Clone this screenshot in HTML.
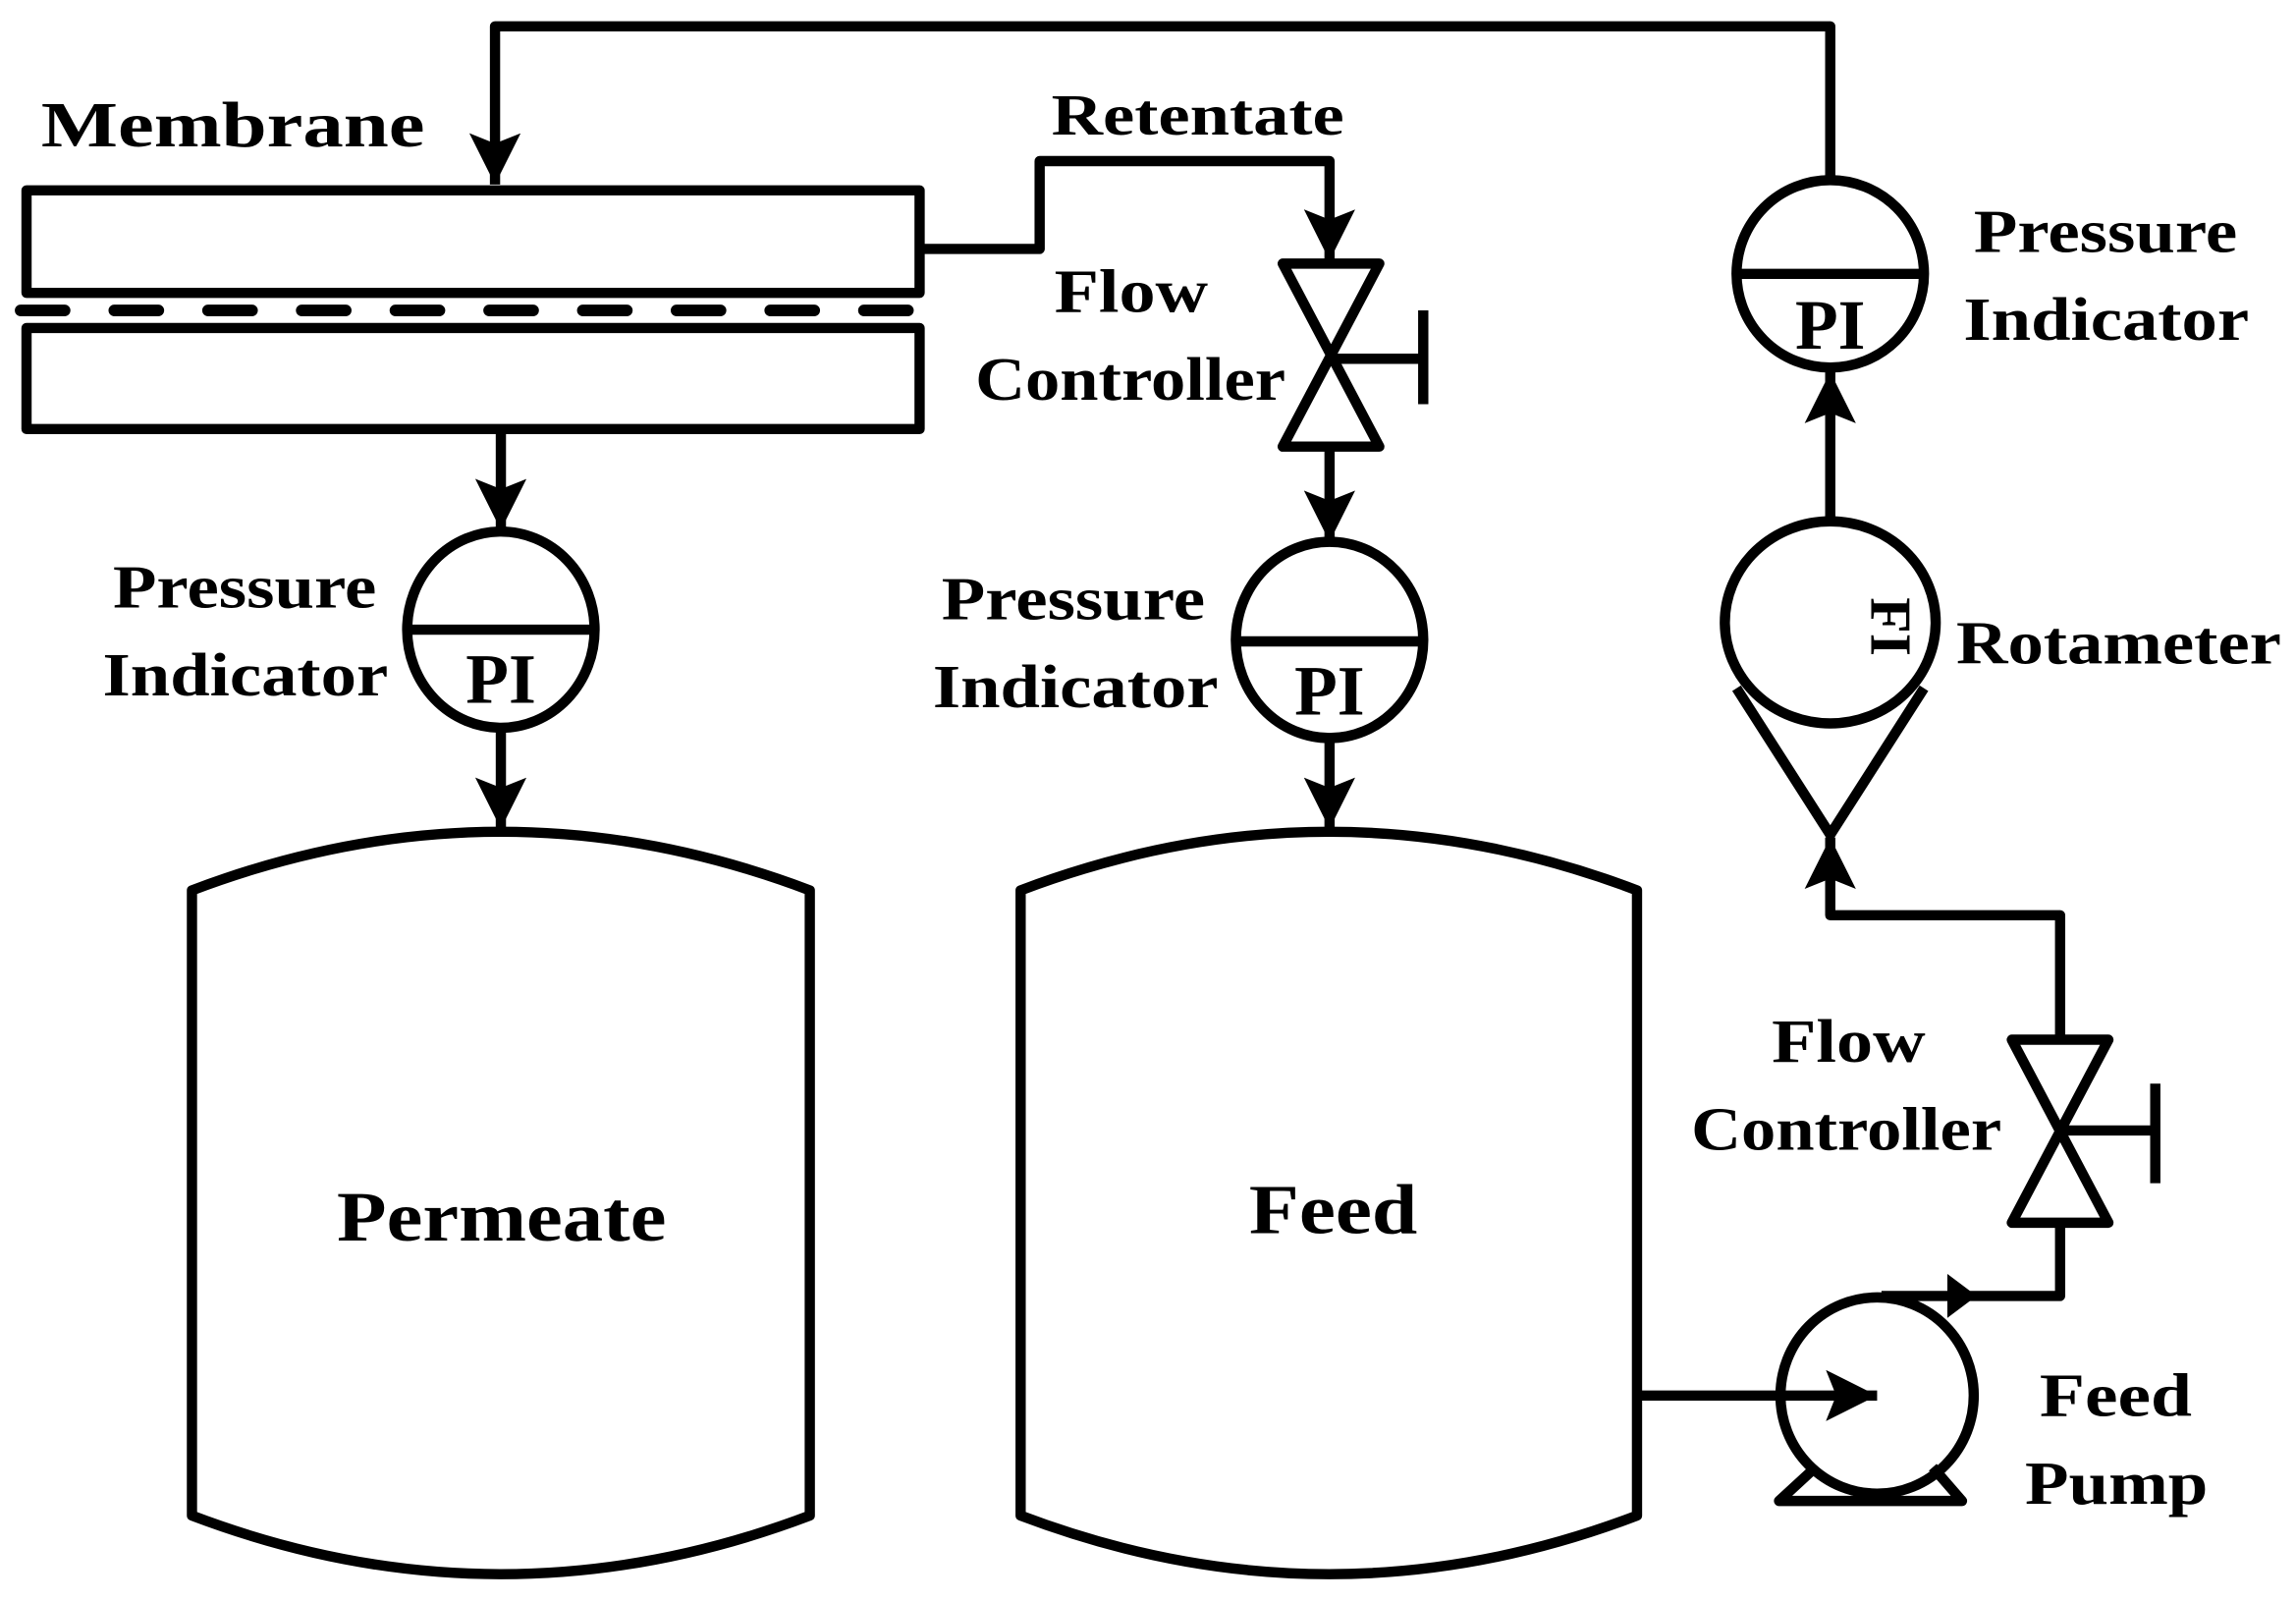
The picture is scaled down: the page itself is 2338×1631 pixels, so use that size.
<!DOCTYPE html>
<html><head><meta charset="utf-8"><style>
html,body{margin:0;padding:0;background:#fff;}
svg{display:block;}
text{font-family:"Liberation Serif",serif;font-weight:bold;fill:#000;}
</style></head><body>
<svg width="2338" height="1631" viewBox="0 0 1568 1094" xmlns="http://www.w3.org/2000/svg">
<defs>
<marker id="a" viewBox="0 0 10 10" refX="10" refY="5" markerWidth="5" markerHeight="5" orient="auto" markerUnits="strokeWidth"><path d="M0,0 L10,5 L0,10 L2,5 Z" fill="#000"/></marker>
</defs>
<g fill="none" stroke="#000" stroke-width="7" stroke-linejoin="round">
<polyline points="1250,123 1250,18 338,18 338,126" marker-end="url(#a)"/>
<rect x="18" y="130" width="610" height="70"/>
<rect x="18" y="224" width="610" height="69"/>
<line x1="14" y1="212" x2="628" y2="212" stroke-dasharray="30,34" stroke-width="8" stroke-linecap="round"/>
<polyline points="628,170 710,170 710,110 908,110 908,178" marker-end="url(#a)"/>
<polygon points="876,180 942,180 876,305 942,305"/>
<line x1="908" y1="245" x2="972" y2="245"/>
<line x1="972" y1="212" x2="972" y2="276"/>
<polyline points="908,305 908,370" marker-end="url(#a)"/>
<ellipse cx="908" cy="437" rx="64" ry="67"/>
<line x1="844" y1="438" x2="972" y2="438"/>
<polyline points="908,504 908,566" marker-end="url(#a)"/>
<polyline points="342,293 342,362" marker-end="url(#a)"/>
<ellipse cx="342" cy="430" rx="64" ry="67"/>
<line x1="278" y1="430" x2="406" y2="430"/>
<polyline points="342,497 342,566" marker-end="url(#a)"/>
<path d="M131,608 Q342,528 553,608 L553,1035 Q342,1115 131,1035 Z"/>
<path d="M697,608 Q908,528 1118,608 L1118,1035 Q908,1115 697,1035 Z"/>
<ellipse cx="1250" cy="187" rx="64" ry="64"/>
<line x1="1186" y1="187" x2="1314" y2="187"/>
<polyline points="1250,355 1250,254" marker-end="url(#a)"/>
<ellipse cx="1250" cy="425" rx="72" ry="69"/>
<polyline points="1186,470 1250,570 1314,470"/>
<polyline points="1407,710 1407,625 1250,625 1250,572" marker-end="url(#a)"/>
<polygon points="1374,710 1440,710 1374,835 1440,835"/>
<line x1="1407" y1="772" x2="1472" y2="772"/>
<line x1="1472" y1="740" x2="1472" y2="808"/>
<polyline points="1407,835 1407,885 1285,885"/>
<ellipse cx="1282" cy="953" rx="66" ry="67"/>
<polyline points="1240,1002 1215,1025 1340,1025 1320,1002"/>
<polyline points="1118,953 1282,953" marker-end="url(#a)"/>
</g>
<path d="M1330,870 L1350,885 L1330,900 Z" fill="#000"/>
<g font-size="44">
<text x="28" y="100" textLength="262" lengthAdjust="spacingAndGlyphs">Membrane</text>
<text x="718" y="92" font-size="40" textLength="200" lengthAdjust="spacingAndGlyphs">Retentate</text>
<g font-size="42">
<text x="720" y="213" textLength="105" lengthAdjust="spacingAndGlyphs">Flow</text>
<text x="666" y="273" textLength="212" lengthAdjust="spacingAndGlyphs">Controller</text>
<text x="77" y="415" textLength="180" lengthAdjust="spacingAndGlyphs">Pressure</text>
<text x="70" y="475" textLength="195" lengthAdjust="spacingAndGlyphs">Indicator</text>
<text x="643" y="423" textLength="180" lengthAdjust="spacingAndGlyphs">Pressure</text>
<text x="637" y="483" textLength="195" lengthAdjust="spacingAndGlyphs">Indicator</text>
<text x="1348" y="172" textLength="180" lengthAdjust="spacingAndGlyphs">Pressure</text>
<text x="1341" y="232" textLength="195" lengthAdjust="spacingAndGlyphs">Indicator</text>
<text x="1210" y="725" textLength="105" lengthAdjust="spacingAndGlyphs">Flow</text>
<text x="1155" y="785" textLength="212" lengthAdjust="spacingAndGlyphs">Controller</text>
<text x="1393" y="967" textLength="104" lengthAdjust="spacingAndGlyphs">Feed</text>
<text x="1383" y="1027" textLength="125" lengthAdjust="spacingAndGlyphs">Pump</text>
<text x="1336" y="453" textLength="222" lengthAdjust="spacingAndGlyphs">Rotameter</text>
</g>
<g text-anchor="middle" font-size="48">
<text x="342" y="480">PI</text>
<text x="908" y="488">PI</text>
<text x="1250" y="238">PI</text>
</g>
<text x="230" y="847" font-size="48" textLength="225" lengthAdjust="spacingAndGlyphs">Permeate</text>
<text x="853" y="842" font-size="48" textLength="115" lengthAdjust="spacingAndGlyphs">Feed</text>
<text x="0" y="0" font-size="40" text-anchor="middle" transform="translate(1278,428) rotate(90)">FI</text>
</g>
</svg>
</body></html>
